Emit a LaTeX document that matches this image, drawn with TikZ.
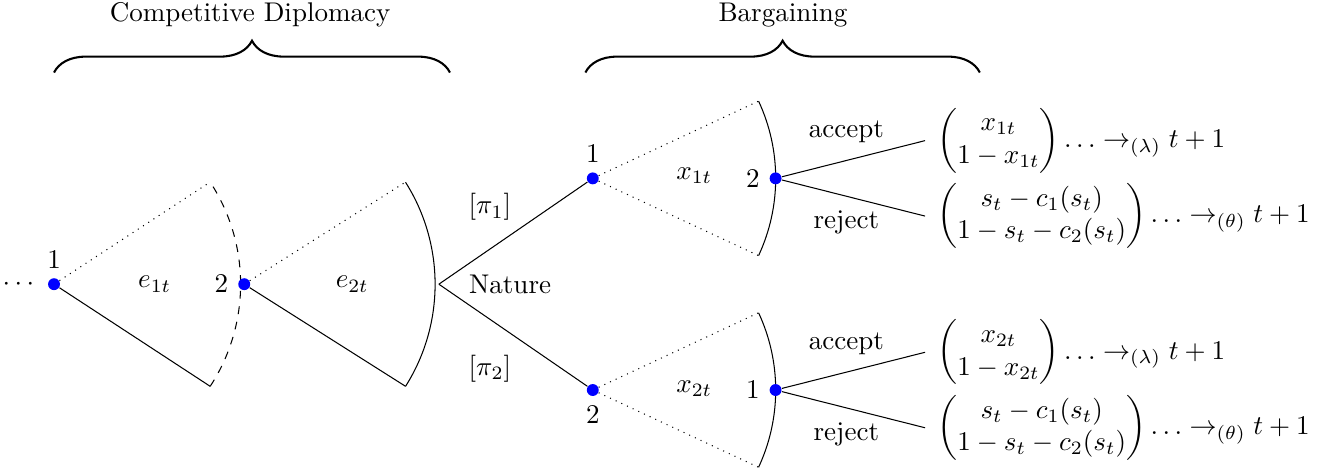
\documentclass[tikz,border=0pt]{standalone}
\usepackage{amsmath}
\usepackage{amssymb}
\usetikzlibrary{positioning,decorations.pathreplacing}

\begin{document}
\begin{tikzpicture}[
    every node/.append style={scale=1.04},
    player/.style={circle, fill=blue, inner sep=0pt, minimum size=4.4pt},
    stagebrace/.style={decorate, decoration={brace, amplitude=0.43cm}, thick},
    payoff/.style={anchor=west, xshift=1pt}
]
    \useasboundingbox (-0.73,-2.50) rectangle (17.12,3.84);

    % Stage titles
    \draw[stagebrace] (0,2.86) -- (5.35,2.86);
    \node (cdtitle) at (2.65,3.64) {Competitive Diplomacy};
    \draw[stagebrace] (7.18,2.86) -- (12.51,2.86);
    \node (bgtitle) at (9.85,3.64) {Bargaining};

    % Competitive diplomacy: player 1 chooses e_1t
    \node[player, label=above:$1$] (d1) at (0,0) {};
    \node (dots) at (-0.45,0) {$\cdots$};
    \coordinate (d1up) at (2.11,1.38);
    \coordinate (d1dn) at (2.11,-1.38);
    \draw[dotted] (d1) -- (d1up);
    \draw (d1) -- (d1dn);
    \draw[dashed] (d1dn) arc[start angle=-33.2, end angle=33.2, radius=2.52];
    \node (e1) at (1.36,0) {$e_{1t}$};

    % Competitive diplomacy: player 2 chooses e_2t
    \node[player, label=left:$2$] (d2) at (2.57,0) {};
    \coordinate (d2up) at (4.75,1.38);
    \coordinate (d2dn) at (4.75,-1.38);
    \draw[dotted] (d2) -- (d2up);
    \draw (d2) -- (d2dn);
    \draw (d2dn) arc[start angle=-32.3, end angle=32.3, radius=2.58];
    \node (e2) at (4.03,0) {$e_{2t}$};

    % Nature picks the proposer
    \coordinate (nat) at (5.2,0);
    \node[anchor=west] (natlabel) at (5.48,0) {Nature};
    \node[player, label=above:$1$] (b1) at (7.28,1.43) {};
    \node[player, label=below:$2$] (b2) at (7.28,-1.43) {};
    \draw (nat) -- (b1);
    \draw (nat) -- (b2);
    \node (pi1) at (5.89,1.04) {$[\pi_1]$};
    \node (pi2) at (5.89,-1.14) {$[\pi_2]$};

    % Offers
    \coordinate (b1up) at (9.52,2.474);
    \coordinate (b1dn) at (9.52,0.386);
    \draw[dotted] (b1) -- (b1up);
    \draw[dotted] (b1) -- (b1dn);
    \draw (b1dn) arc[start angle=-25, end angle=25, radius=2.47];
    \node (x1) at (8.65,1.47) {$x_{1t}$};
    \node[player, label=left:$2$] (r2) at (9.75,1.43) {};

    \coordinate (b2up) at (9.52,-0.386);
    \coordinate (b2dn) at (9.52,-2.474);
    \draw[dotted] (b2) -- (b2up);
    \draw[dotted] (b2) -- (b2dn);
    \draw (b2dn) arc[start angle=-25, end angle=25, radius=2.47];
    \node (x2) at (8.65,-1.41) {$x_{2t}$};
    \node[player, label=left:$1$] (r1) at (9.75,-1.43) {};

    % Responses and payoffs
    \coordinate (acc1) at (11.77,1.94);
    \coordinate (rej1) at (11.77,0.92);
    \draw (r2) -- node[pos=0.45, above=3pt] {accept} (acc1);
    \draw (r2) -- node[pos=0.45, below=2pt] {reject} (rej1);
    \node[payoff] (pa1) at (acc1) {$\begin{pmatrix} x_{1t}\\ 1-x_{1t}\end{pmatrix}\ldots\to_{(\lambda)}t+1$};
    \node[payoff] (pr1) at (rej1) {$\begin{pmatrix} s_t-c_1(s_t)\\ 1-s_t-c_2(s_t)\end{pmatrix}\ldots\to_{(\theta)}t+1$};

    \coordinate (acc2) at (11.77,-0.92);
    \coordinate (rej2) at (11.77,-1.94);
    \draw (r1) -- node[pos=0.45, above=3pt] {accept} (acc2);
    \draw (r1) -- node[pos=0.45, below=2pt] {reject} (rej2);
    \node[payoff] (pa2) at (acc2) {$\begin{pmatrix} x_{2t}\\ 1-x_{2t}\end{pmatrix}\ldots\to_{(\lambda)}t+1$};
    \node[payoff] (pr2) at (rej2) {$\begin{pmatrix} s_t-c_1(s_t)\\ 1-s_t-c_2(s_t)\end{pmatrix}\ldots\to_{(\theta)}t+1$};
\end{tikzpicture}
\end{document}
